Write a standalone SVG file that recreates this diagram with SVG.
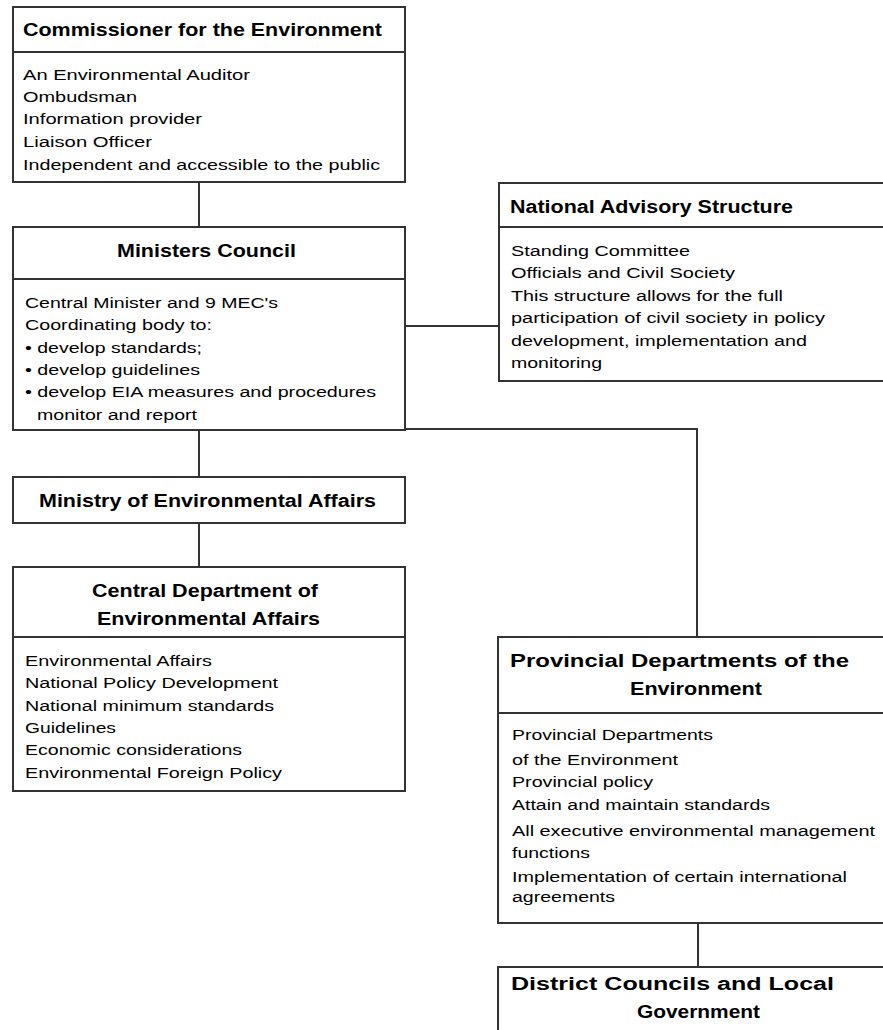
<svg xmlns="http://www.w3.org/2000/svg" width="883" height="1030" viewBox="0 0 883 1030">
<style>
.box{fill:#fff;stroke:#333;stroke-width:2}
.div{stroke:#333;stroke-width:2}
.t{font-family:"Liberation Sans",Arial,sans-serif;font-weight:bold;font-size:18px;fill:#000}
.b{font-family:"Liberation Sans",Arial,sans-serif;font-size:15.5px;fill:#000}
.con{fill:none;stroke:#333;stroke-width:2}
</style>
<rect width="883" height="1030" fill="#fff"/>
<g id="connectors" class="con">
<line x1="199" y1="182" x2="199" y2="227"/>
<line x1="405" y1="326" x2="499" y2="326"/>
<polyline points="405,429 697,429 697,637"/>
<line x1="199" y1="430" x2="199" y2="477"/>
<line x1="199" y1="523" x2="199" y2="567"/>
<line x1="698" y1="923" x2="698" y2="967"/>
</g>
<g id="commissioner">
<rect class="box" x="13" y="7" width="392" height="175"/>
<line class="div" x1="13" y1="52" x2="405" y2="52"/>
<text class="t" x="23" y="36" textLength="359" lengthAdjust="spacingAndGlyphs">Commissioner for the Environment</text>
<text class="b" x="23" y="80" textLength="227" lengthAdjust="spacingAndGlyphs">An Environmental Auditor</text>
<text class="b" x="23" y="102" textLength="114" lengthAdjust="spacingAndGlyphs">Ombudsman</text>
<text class="b" x="23" y="124" textLength="179" lengthAdjust="spacingAndGlyphs">Information provider</text>
<text class="b" x="23" y="147" textLength="129" lengthAdjust="spacingAndGlyphs">Liaison Officer</text>
<text class="b" x="23" y="170" textLength="357" lengthAdjust="spacingAndGlyphs">Independent and accessible to the public</text>
</g>
<g id="ministers-council">
<rect class="box" x="13" y="227" width="392" height="203"/>
<line class="div" x1="13" y1="279" x2="405" y2="279"/>
<text class="t" x="117" y="257" textLength="179" lengthAdjust="spacingAndGlyphs">Ministers Council</text>
<text class="b" x="25" y="308" textLength="253" lengthAdjust="spacingAndGlyphs">Central Minister and 9 MEC's</text>
<text class="b" x="25" y="330" textLength="187" lengthAdjust="spacingAndGlyphs">Coordinating body to:</text>
<text class="b" x="25" y="353" textLength="177" lengthAdjust="spacingAndGlyphs">• develop standards;</text>
<text class="b" x="25" y="375" textLength="175" lengthAdjust="spacingAndGlyphs">• develop guidelines</text>
<text class="b" x="25" y="397" textLength="351" lengthAdjust="spacingAndGlyphs">• develop EIA measures and procedures</text>
<text class="b" x="37" y="420" textLength="160" lengthAdjust="spacingAndGlyphs">monitor and report</text>
</g>
<g id="national-advisory">
<rect class="box" x="499" y="183" width="420" height="198"/>
<line class="div" x1="499" y1="227" x2="919" y2="227"/>
<text class="t" x="510" y="213" textLength="283" lengthAdjust="spacingAndGlyphs">National Advisory Structure</text>
<text class="b" x="511" y="256" textLength="179" lengthAdjust="spacingAndGlyphs">Standing Committee</text>
<text class="b" x="511" y="278" textLength="224" lengthAdjust="spacingAndGlyphs">Officials and Civil Society</text>
<text class="b" x="511" y="301" textLength="272" lengthAdjust="spacingAndGlyphs">This structure allows for the full</text>
<text class="b" x="511" y="323" textLength="314" lengthAdjust="spacingAndGlyphs">participation of civil society in policy</text>
<text class="b" x="511" y="346" textLength="296" lengthAdjust="spacingAndGlyphs">development, implementation and</text>
<text class="b" x="511" y="368" textLength="91" lengthAdjust="spacingAndGlyphs">monitoring</text>
</g>
<g id="ministry">
<rect class="box" x="13" y="477" width="392" height="46"/>
<text class="t" x="39" y="507" textLength="337" lengthAdjust="spacingAndGlyphs">Ministry of Environmental Affairs</text>
</g>
<g id="central-department">
<rect class="box" x="13" y="567" width="392" height="224"/>
<line class="div" x1="13" y1="637" x2="405" y2="637"/>
<text class="t" x="92" y="597" textLength="226" lengthAdjust="spacingAndGlyphs">Central Department of</text>
<text class="t" x="97" y="625" textLength="223" lengthAdjust="spacingAndGlyphs">Environmental Affairs</text>
<text class="b" x="25" y="666" textLength="187" lengthAdjust="spacingAndGlyphs">Environmental Affairs</text>
<text class="b" x="25" y="688" textLength="253" lengthAdjust="spacingAndGlyphs">National Policy Development</text>
<text class="b" x="25" y="711" textLength="249" lengthAdjust="spacingAndGlyphs">National minimum standards</text>
<text class="b" x="25" y="733" textLength="91" lengthAdjust="spacingAndGlyphs">Guidelines</text>
<text class="b" x="25" y="755" textLength="217" lengthAdjust="spacingAndGlyphs">Economic considerations</text>
<text class="b" x="25" y="778" textLength="257" lengthAdjust="spacingAndGlyphs">Environmental Foreign Policy</text>
</g>
<g id="provincial-departments">
<rect class="box" x="498" y="637" width="420" height="286"/>
<line class="div" x1="498" y1="713" x2="918" y2="713"/>
<text class="t" x="510" y="667" textLength="339" lengthAdjust="spacingAndGlyphs">Provincial Departments of the</text>
<text class="t" x="630" y="695" textLength="132" lengthAdjust="spacingAndGlyphs">Environment</text>
<text class="b" x="512" y="740" textLength="201" lengthAdjust="spacingAndGlyphs">Provincial Departments</text>
<text class="b" x="512" y="765" textLength="166" lengthAdjust="spacingAndGlyphs">of the Environment</text>
<text class="b" x="512" y="787" textLength="141" lengthAdjust="spacingAndGlyphs">Provincial policy</text>
<text class="b" x="512" y="810" textLength="258" lengthAdjust="spacingAndGlyphs">Attain and maintain standards</text>
<text class="b" x="512" y="836" textLength="363" lengthAdjust="spacingAndGlyphs">All executive environmental management</text>
<text class="b" x="512" y="858" textLength="78" lengthAdjust="spacingAndGlyphs">functions</text>
<text class="b" x="512" y="882" textLength="335" lengthAdjust="spacingAndGlyphs">Implementation of certain international</text>
<text class="b" x="512" y="902" textLength="103" lengthAdjust="spacingAndGlyphs">agreements</text>
</g>
<g id="district-councils">
<rect class="box" x="498" y="967" width="420" height="100"/>
<text class="t" x="511" y="990" textLength="323" lengthAdjust="spacingAndGlyphs">District Councils and Local</text>
<text class="t" x="637" y="1018" textLength="123" lengthAdjust="spacingAndGlyphs">Government</text>
</g>
</svg>
